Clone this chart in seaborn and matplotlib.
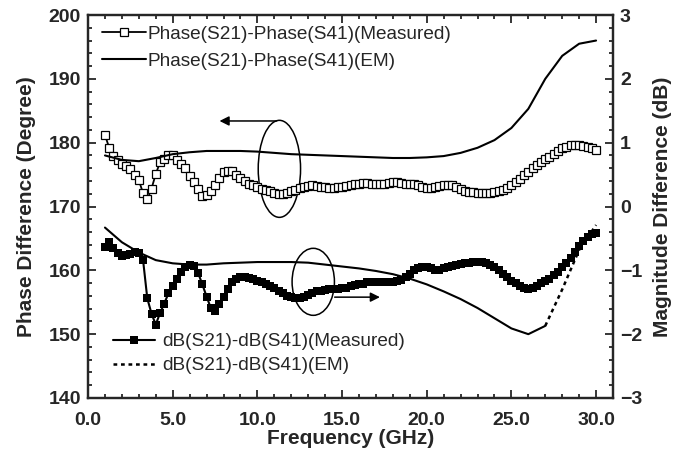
import numpy as np
import pandas as pd
import seaborn as sns
import matplotlib.pyplot as plt
from matplotlib.patches import Ellipse
from matplotlib.ticker import MultipleLocator, FormatStrFormatter

# measured sweep, 1 - 30 GHz in 0.25 GHz steps
freq_meas = np.linspace(1.0, 30.0, 117)
phase_meas = [
    181.2, 179.2, 177.9, 177.3,
    176.7, 176.3, 175.9, 175.0,
    174.1, 172.1, 171.1, 172.8,
    175.1, 176.9, 177.4, 178.0,
    178.0, 177.3, 176.7, 176.0,
    174.8, 173.8, 172.8, 171.7,
    171.8, 172.4, 173.3, 174.5,
    175.4, 175.6, 175.5, 175.0,
    174.5, 174.0, 173.6, 173.4,
    173.1, 172.8, 172.6, 172.4,
    172.1, 171.9, 171.9, 172.1,
    172.4, 172.6, 172.9, 173.1,
    173.2, 173.3, 173.2, 173.1,
    173.0, 172.9, 172.9, 173.0,
    173.1, 173.2, 173.4, 173.5,
    173.6, 173.7, 173.7, 173.6,
    173.6, 173.5, 173.6, 173.7,
    173.8, 173.8, 173.7, 173.6,
    173.5, 173.5, 173.3, 173.1,
    172.9, 172.9, 173.0, 173.2,
    173.3, 173.4, 173.3, 173.1,
    172.8, 172.5, 172.3, 172.2,
    172.1, 172.1, 172.1, 172.1,
    172.2, 172.4, 172.6, 172.9,
    173.3, 173.8, 174.3, 174.9,
    175.4, 176.0, 176.5, 177.0,
    177.4, 177.8, 178.2, 178.7,
    179.1, 179.4, 179.6, 179.7,
    179.6, 179.5, 179.3, 179.1,
    178.9,
]
db_meas = [
    -0.63, -0.56, -0.65, -0.73,
    -0.78, -0.76, -0.74, -0.72,
    -0.73, -0.84, -1.44, -1.68,
    -1.85, -1.67, -1.52, -1.36,
    -1.25, -1.13, -1.03, -0.95,
    -0.91, -0.93, -1.04, -1.22,
    -1.41, -1.59, -1.64, -1.52,
    -1.41, -1.30, -1.19, -1.13,
    -1.11, -1.11, -1.12, -1.14,
    -1.16, -1.18, -1.21, -1.25,
    -1.28, -1.32, -1.36, -1.40,
    -1.41, -1.43, -1.43, -1.41,
    -1.39, -1.36, -1.33, -1.32,
    -1.31, -1.30, -1.29, -1.29,
    -1.28, -1.27, -1.25, -1.23,
    -1.22, -1.21, -1.19, -1.19,
    -1.18, -1.18, -1.18, -1.18,
    -1.18, -1.17, -1.15, -1.11,
    -1.06, -1.00, -0.97, -0.95,
    -0.95, -0.97, -1.00, -0.99,
    -0.97, -0.95, -0.93, -0.91,
    -0.90, -0.89, -0.88, -0.87,
    -0.87, -0.87, -0.88, -0.91,
    -0.95, -1.00, -1.06, -1.11,
    -1.16, -1.20, -1.24, -1.28,
    -1.30, -1.28, -1.24, -1.20,
    -1.17, -1.14, -1.08, -1.02,
    -0.95, -0.88, -0.80, -0.71,
    -0.62, -0.54, -0.47, -0.43,
    -0.42,
]

# EM simulation, 1 GHz steps
freq_em = list(range(1, 31))
phase_em = [178.0, 177.3, 177.1, 177.6, 178.2, 178.5, 178.7, 178.7, 178.7, 178.6,
            178.4, 178.2, 178.1, 178.0, 177.9, 177.8, 177.7, 177.6, 177.6, 177.7,
            177.9, 178.4, 179.2, 180.4, 182.3, 185.3, 190.0, 193.6, 195.5, 196.0]
db_em = [-0.33, -0.56, -0.72, -0.84, -0.89, -0.91, -0.91, -0.89, -0.88, -0.87,
         -0.87, -0.87, -0.88, -0.91, -0.94, -0.97, -1.01, -1.06, -1.13, -1.22,
         -1.33, -1.45, -1.59, -1.75, -1.91, -2.00, -1.87, -1.30, -0.68, -0.29]

meas = pd.DataFrame({'f': freq_meas, 'phase': phase_meas, 'db': db_meas})
em = pd.DataFrame({'f': freq_em, 'phase': phase_em, 'db': db_em})
em_solid = em[em['f'] <= 27]
em_dot = em[em['f'] >= 27]

sns.set_style('ticks')
plt.rcParams['font.family'] = ['Liberation Sans', 'DejaVu Sans']

fig = plt.figure(figsize=(6.84, 4.59), dpi=100)
ax = fig.add_axes([0.1287, 0.1329, 0.7675, 0.8344])
ax2 = ax.twinx()

sns.lineplot(data=meas, x='f', y='phase', ax=ax, color='black', lw=1.3,
             marker='s', markersize=5.5, markerfacecolor='white',
             markeredgecolor='black', markeredgewidth=0.9,
             label='Phase(S21)-Phase(S41)(Measured)', sort=False, errorbar=None)
sns.lineplot(data=em, x='f', y='phase', ax=ax, color='black', lw=1.5,
             label='Phase(S21)-Phase(S41)(EM)', sort=False, errorbar=None)

sns.lineplot(data=meas, x='f', y='db', ax=ax2, color='black', lw=1.5,
             marker='s', markersize=6, markeredgewidth=0,
             label='dB(S21)-dB(S41)(Measured)', sort=False, errorbar=None)
sns.lineplot(data=em_solid, x='f', y='db', ax=ax2, color='black', lw=1.5,
             sort=False, errorbar=None)
sns.lineplot(data=em_dot, x='f', y='db', ax=ax2, color='black', lw=1.8,
             linestyle=(0, (1.5, 1.5)), label='dB(S21)-dB(S41)(EM)',
             sort=False, errorbar=None)

ax.set_xlim(0, 31)
ax.set_ylim(140, 200)
ax2.set_ylim(-3, 3)

ax.xaxis.set_major_locator(MultipleLocator(5))
ax.xaxis.set_minor_locator(MultipleLocator(1))
ax.xaxis.set_major_formatter(FormatStrFormatter('%.1f'))
ax.yaxis.set_major_locator(MultipleLocator(10))
ax.yaxis.set_minor_locator(MultipleLocator(2))
ax2.yaxis.set_major_locator(MultipleLocator(1))
ax2.yaxis.set_minor_locator(MultipleLocator(0.2))

ax.tick_params(which='both', direction='in', top=True, right=False, width=1.3,
               labelsize=14, pad=5)
ax.tick_params(axis='x', which='both', pad=10)
ax.tick_params(which='major', length=6)
ax.tick_params(which='minor', length=3)
ax2.tick_params(which='both', direction='in', width=1.3, labelsize=14, pad=5)
ax2.tick_params(which='major', length=6)
ax2.tick_params(which='minor', length=3)
for lab in ax.get_xticklabels() + ax.get_yticklabels() + ax2.get_yticklabels():
    lab.set_fontweight('bold')

for a in (ax, ax2):
    for sp in a.spines.values():
        sp.set_linewidth(1.6)
        sp.set_visible(True)

ax.set_xlabel('Frequency (GHz)', fontsize=15, fontweight='bold', labelpad=0)
ax.set_ylabel('Phase Difference (Degree)', fontsize=15, fontweight='bold', labelpad=9)
ax2.set_ylabel('Magnitude Difference (dB)', fontsize=15, fontweight='bold', labelpad=8)

ax.legend(loc='upper left', bbox_to_anchor=(0.027, 0.972), frameon=False,
          fontsize=13.7, handlelength=2.3, handletextpad=0.1, labelspacing=0.5,
          borderpad=0, borderaxespad=0)
ax2.legend(loc='upper left', bbox_to_anchor=(0.048, 0.17), frameon=False,
           fontsize=13.7, handlelength=2.2, handletextpad=0.4, labelspacing=0.35,
           borderpad=0, borderaxespad=0)

# annotation ellipses and arrows
ax.add_patch(Ellipse((11.3, 175.9), 2.5, 15.2, fill=False, ec='black', lw=1.1))
ax.annotate('', xy=(7.6, 183.4), xytext=(11.3, 183.4),
            arrowprops=dict(arrowstyle='-|>', color='black', lw=1.1, mutation_scale=14))
ax.add_patch(Ellipse((13.3, 158.2), 2.5, 10.5, fill=False, ec='black', lw=1.1))
ax.annotate('', xy=(17.4, 155.8), xytext=(14.4, 155.8),
            arrowprops=dict(arrowstyle='-|>', color='black', lw=1.1, mutation_scale=14))

fig.savefig('out.png', dpi=100)
